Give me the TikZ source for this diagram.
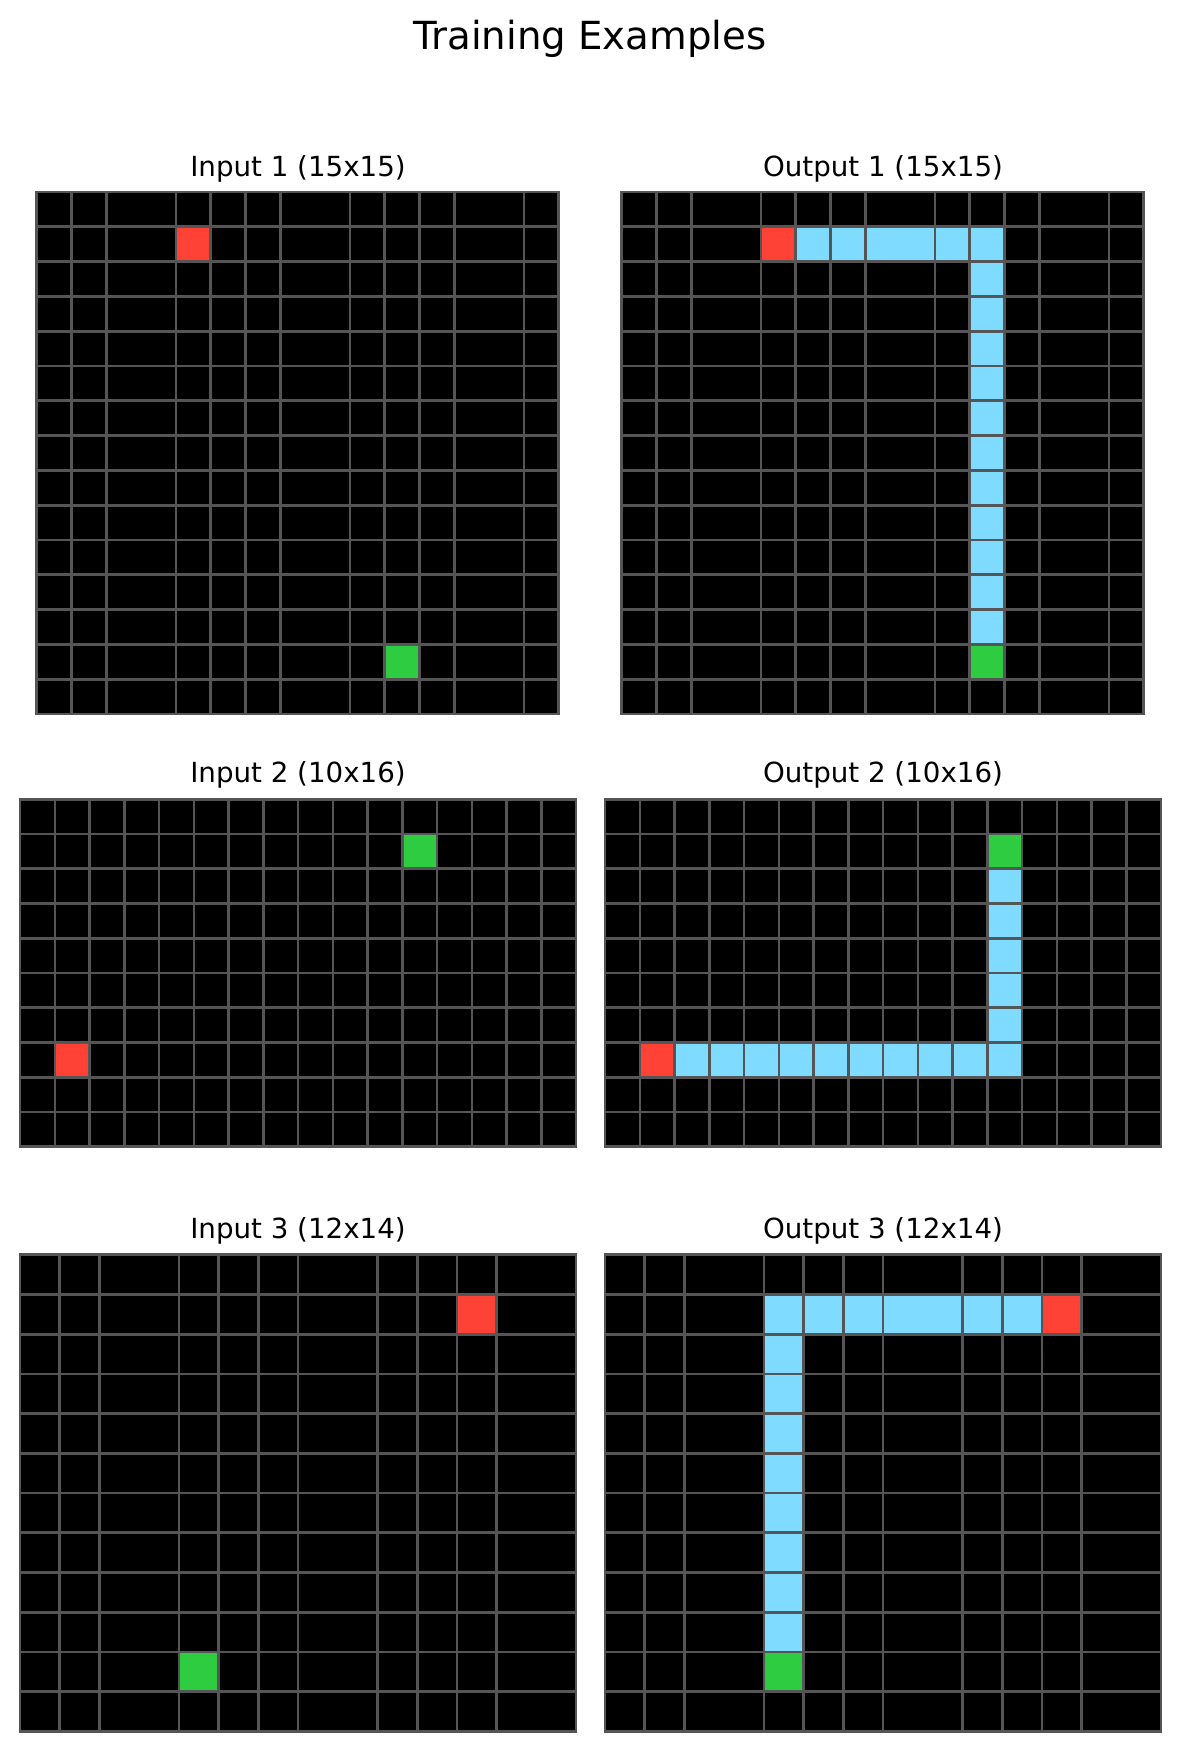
\documentclass[tikz,border=0pt]{standalone}
\usepackage{fontspec}
\setmainfont{DejaVu Sans}
\definecolor{arcred}{HTML}{FF4136}
\definecolor{arcgreen}{HTML}{2ECC40}
\definecolor{arcblue}{HTML}{7FDBFF}
\definecolor{linegray}{HTML}{555555}
\usetikzlibrary{positioning}

% lines of one grid: #1 columns, #2 rows, #3 column lines that are drawn
\newcommand{\arclines}[3]{%
  \foreach \k in {#3} \draw[gridline] (\k,0) -- (\k,#2);
  \foreach \k in {0,...,#2} \draw[gridline] (0,\k) -- (#1,\k);
  \draw[gridline] (0,0) rectangle (#1,#2);
}

\begin{document}
\begin{tikzpicture}[x=1pt, y=-1pt,
   gridline/.style={draw=linegray, line width=2.7pt},
   maintitle/.style={font=\fontsize{38.7}{43}\selectfont},
   paneltitle/.style={font=\fontsize{27.7}{31}\selectfont}]
\useasboundingbox[fill=white] (0,0) rectangle (1180,1750);
\node[maintitle] (title) at (590,39) {Training Examples};
\node[paneltitle] (in1)  at (298,169)  {Input 1 (15x15)};
\node[paneltitle] (out1) at (883,169)  {Output 1 (15x15)};
\node[paneltitle] (in2)  at (298,775)  {Input 2 (10x16)};
\node[paneltitle] (out2) at (883,775)  {Output 2 (10x16)};
\node[paneltitle] (in3)  at (298,1231) {Input 3 (12x14)};
\node[paneltitle] (out3) at (883,1231) {Output 3 (12x14)};

% example 1
\begin{scope}[xshift=36.8pt, yshift=-192pt, x=34.8pt, y=-34.8pt]
  \fill (0,0) rectangle (15,15);
  \fill[arcred] (4,1) rectangle ++(1,1);
  \fill[arcgreen] (10,13) rectangle ++(1,1);
  \arclines{15}{15}{0,1,2,4,5,6,7,9,10,11,12,14,15}
\end{scope}
\begin{scope}[xshift=621.8pt, yshift=-192pt, x=34.8pt, y=-34.8pt]
  \fill (0,0) rectangle (15,15);
  \fill[arcblue] (5,1) rectangle (11,2);
  \fill[arcblue] (10,2) rectangle (11,13);
  \fill[arcred] (4,1) rectangle ++(1,1);
  \fill[arcgreen] (10,13) rectangle ++(1,1);
  \arclines{15}{15}{0,1,2,4,5,6,7,9,10,11,12,14,15}
\end{scope}

% example 2
\begin{scope}[xshift=20.1pt, yshift=-799.3pt, x=34.75pt, y=-34.75pt]
  \fill (0,0) rectangle (16,10);
  \fill[arcgreen] (11,1) rectangle ++(1,1);
  \fill[arcred] (1,7) rectangle ++(1,1);
  \arclines{16}{10}{0,...,16}
\end{scope}
\begin{scope}[xshift=605.1pt, yshift=-799.3pt, x=34.75pt, y=-34.75pt]
  \fill (0,0) rectangle (16,10);
  \fill[arcblue] (2,7) rectangle (12,8);
  \fill[arcblue] (11,2) rectangle (12,7);
  \fill[arcgreen] (11,1) rectangle ++(1,1);
  \fill[arcred] (1,7) rectangle ++(1,1);
  \arclines{16}{10}{0,...,16}
\end{scope}

% example 3
\begin{scope}[xshift=20.1pt, yshift=-1254.8pt, x=39.71pt, y=-39.71pt]
  \fill (0,0) rectangle (14,12);
  \fill[arcred] (11,1) rectangle ++(1,1);
  \fill[arcgreen] (4,10) rectangle ++(1,1);
  \arclines{14}{12}{0,1,2,4,5,6,7,9,10,11,12,14}
\end{scope}
\begin{scope}[xshift=605.1pt, yshift=-1254.8pt, x=39.71pt, y=-39.71pt]
  \fill (0,0) rectangle (14,12);
  \fill[arcblue] (4,1) rectangle (11,2);
  \fill[arcblue] (4,2) rectangle (5,10);
  \fill[arcred] (11,1) rectangle ++(1,1);
  \fill[arcgreen] (4,10) rectangle ++(1,1);
  \arclines{14}{12}{0,1,2,4,5,6,7,9,10,11,12,14}
\end{scope}
\end{tikzpicture}
\end{document}
